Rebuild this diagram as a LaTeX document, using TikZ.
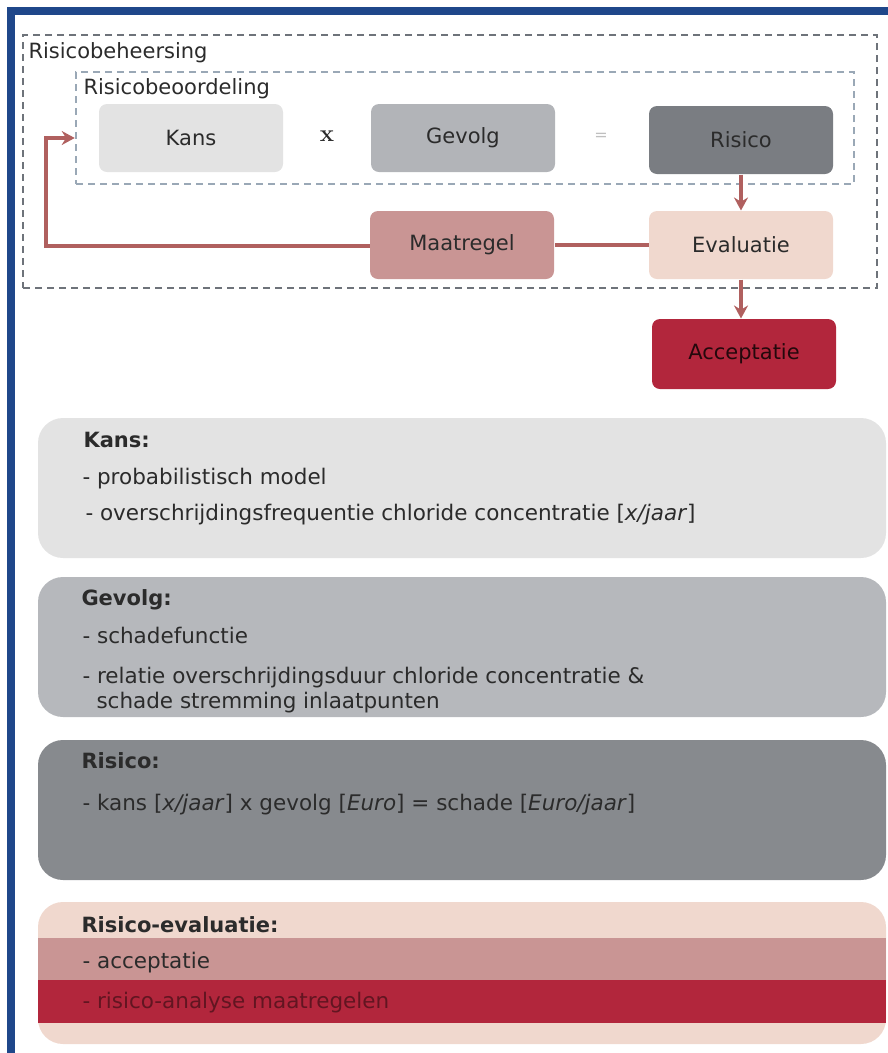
\documentclass[tikz,border=0pt]{standalone}
\usepackage{fontspec}
\usepackage{tikz}
\usetikzlibrary{arrows.meta}
\newfontfamily\verdfont{DejaVu Sans}
\definecolor{kader}{HTML}{1F478A}
\definecolor{streep}{HTML}{6E737A}
\definecolor{streeplicht}{HTML}{9AA8B6}
\definecolor{kanskleur}{HTML}{E3E3E3}
\definecolor{gevolgkleur}{HTML}{B2B4B8}
\definecolor{risicokleur}{HTML}{7A7D82}
\definecolor{maatkleur}{HTML}{C99594}
\definecolor{evalkleur}{HTML}{F0D8CE}
\definecolor{acceptkleur}{HTML}{B2263C}
\definecolor{pijlkleur}{HTML}{B0605F}
\definecolor{tekst}{HTML}{2B2B2B}
\tikzset{
every picture/.style={
line width=1pt
}}

\begin{document}
\begin{tikzpicture}[x=1pt, y=-1pt,
block/.style = {rectangle, rounded corners=8pt, minimum width=184pt, minimum height=68pt, text=tekst, font=\verdfont\fontsize{21}{25}\selectfont},
stippelkader/.style = {rectangle, dash pattern=on 7pt off 5pt, line width=2.5pt, inner sep=0pt},
tekstregel/.style = {anchor=base west, inner sep=0pt, text=tekst, font=\verdfont\fontsize{21.5}{25}\selectfont},
kop/.style = {tekstregel, font=\verdfont\bfseries\fontsize{21}{25}\selectfont},
paneel/.style = {rectangle, rounded corners=25pt, minimum width=848pt, minimum height=140pt},
verbinding/.style = {draw=pijlkleur, line width=3.5pt},
pijl/.style = {verbinding, -{Stealth[length=13pt, width=14pt]}}]
\useasboundingbox (0,0) rectangle (888,1053);
\draw[kader, line width=8pt] (11,1053) -- (11,11) -- (888,11);

\node[stippelkader, draw=streep, minimum width=854pt, minimum height=253pt] (beheersing) at (450,161.5) {};
\node[stippelkader, draw=streeplicht, minimum width=778pt, minimum height=112pt] (beoordeling) at (465,128) {};
\node[tekstregel, font=\verdfont\fontsize{21}{25}\selectfont] (beheerlabel) at (28,58) {Risicobeheersing};
\node[tekstregel, font=\verdfont\fontsize{21}{25}\selectfont] (beoordeellabel) at (83,94) {Risicobeoordeling};

\node[block, fill=kanskleur] (kans) at (191,138) {Kans};
\node[text=tekst, font=\bfseries\fontsize{24}{28}\selectfont] (maal) at (327,136) {x};
\node[block, fill=gevolgkleur] (gevolg) at (463,138) {Gevolg};
\node[text=gray!50, font=\verdfont\fontsize{16}{20}\selectfont] (is) at (601,137) {=};
\node[block, fill=risicokleur] (risico) at (741,140) {Risico};
\node[block, fill=maatkleur] (maatregel) at (462,245) {Maatregel};
\node[block, fill=evalkleur] (evaluatie) at (741,245) {Evaluatie};
\node[block, fill=acceptkleur, text=black!80!acceptkleur, minimum height=70pt] (acceptatie) at (744,354) {Acceptatie};
\coordinate (hoek) at (46,246);

\draw[pijl] (risico) -- (evaluatie);
\draw[verbinding] (evaluatie) -- (maatregel);
\draw[pijl] (maatregel.west |- hoek) -- (hoek) |- (beoordeling.west |- kans.center);
\draw[pijl] (evaluatie.south) -- (evaluatie.south |- acceptatie.north);

\node[paneel, fill=kanskleur] (kanspaneel) at (462,488) {};
\node[paneel, fill=gevolgkleur!95!white] (gevolgpaneel) at (462,647) {};
\node[paneel, fill=risicokleur!90!white] (risicopaneel) at (462,810) {};
\node[paneel, fill=evalkleur, minimum height=142pt] (evalpaneel) at (462,973) {};
\begin{scope}
\clip[rounded corners=25pt] (evalpaneel.north west) rectangle (evalpaneel.south east);
\fill[maatkleur] (38,938) rectangle (886,980);
\fill[acceptkleur] (38,980) rectangle (886,1023);
\end{scope}

\node[kop] (kanskop) at (83,447) {Kans:};
\node[tekstregel] (kans1) at (82,484) {- probabilistisch model};
\node[tekstregel] (kans2) at (85,520) {- overschrijdingsfrequentie chloride concentratie [\textit{x/jaar}]};
\node[kop] (gevolgkop) at (81,605) {Gevolg:};
\node[tekstregel] (gevolg1) at (82,643) {- schadefunctie};
\node[tekstregel] (gevolg2) at (82,683) {- relatie overschrijdingsduur chloride concentratie \&};
\node[tekstregel] (gevolg3) at (96,708) {schade stremming inlaatpunten};
\node[kop] (risicokop) at (81,768) {Risico:};
\node[tekstregel] (risico1) at (82,810) {- kans [\textit{x/jaar}] x gevolg [\textit{Euro}] = schade [\textit{Euro/jaar}]};
\node[kop] (evalkop) at (81,932) {Risico-evaluatie:};
\node[tekstregel] (eval1) at (82,968) {- acceptatie};
\node[tekstregel, text=black!45!acceptkleur] (eval2) at (82,1008) {- risico-analyse maatregelen};
\end{tikzpicture}
\end{document}
